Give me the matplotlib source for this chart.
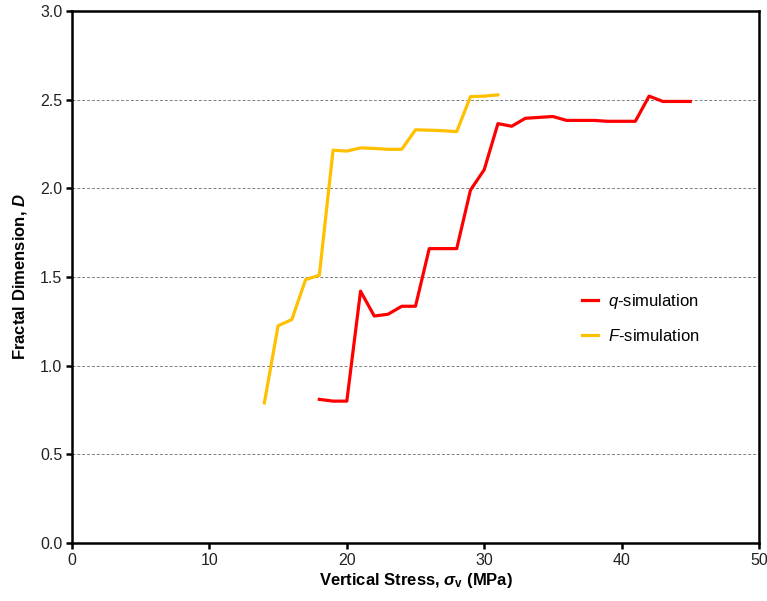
import numpy as np
import matplotlib
matplotlib.use("Agg")
from matplotlib import pyplot as plt

plt.rcParams['font.family'] = ['Liberation Sans', 'DejaVu Sans']
plt.rcParams['mathtext.fontset'] = 'custom'
plt.rcParams['mathtext.it'] = 'Liberation Sans:italic'
plt.rcParams['mathtext.bf'] = 'Liberation Sans:bold'
plt.rcParams['mathtext.bfit'] = 'Liberation Sans:italic:bold'
plt.rcParams['mathtext.rm'] = 'Liberation Sans'

# q-simulation (red)
q_stress = [18, 19, 20, 21, 22, 23, 24, 25, 26, 27, 28, 29, 30, 31, 32, 33, 34, 35,
            36, 37, 38, 39, 40, 41, 42, 43, 44, 45]
q_dim = [0.81, 0.80, 0.80, 1.42, 1.28, 1.29, 1.335, 1.335, 1.66, 1.66, 1.66, 1.99, 2.105,
         2.365, 2.35, 2.395, 2.40, 2.405, 2.383, 2.383, 2.383, 2.378, 2.378, 2.378,
         2.52, 2.49, 2.49, 2.49]

# F-simulation (orange)
f_stress = [14, 15, 16, 17, 18, 19, 20, 21, 22, 23, 24, 25, 26, 27, 28, 29, 30, 31]
f_dim = [0.79, 1.225, 1.26, 1.485, 1.51, 2.215, 2.21, 2.228, 2.225, 2.22, 2.22, 2.33,
         2.328, 2.325, 2.32, 2.517, 2.52, 2.527]

fig = plt.figure(figsize=(7.67, 6.01), dpi=100)
ax = fig.add_axes([72 / 767, 1 - 543 / 601, (759 - 72) / 767, (543 - 11) / 601])

ax.plot(q_stress, q_dim, color='#ff0000', lw=2.3, label='$q$-simulation', zorder=3)
ax.plot(f_stress, f_dim, color='#ffc000', lw=2.3, label='$F$-simulation', zorder=3)

ax.set_xlim(0, 50)
ax.set_ylim(0, 3.0)
ax.set_xticks(np.arange(0, 51, 10))
ax.set_yticks(np.arange(0, 3.01, 0.5))
ax.set_yticklabels(['%.1f' % v for v in np.arange(0, 3.01, 0.5)])
ax.yaxis.grid(True, linestyle=(0, (3, 2)), color='#808080', lw=0.7)
ax.set_axisbelow(True)

for s in ax.spines.values():
    s.set_linewidth(1.8)
ax.tick_params(direction='out', length=4, width=1.8, labelsize=11.5, colors='black',
               labelcolor='#222222', pad=3)

ax.set_xlabel('Vertical Stress, $\\mathbfit{\\sigma}_{\\mathbf{v}}$ (MPa)', fontsize=12,
              fontweight='bold', labelpad=2)
ax.set_ylabel('Fractal Dimension, $\\mathbfit{D}$', fontsize=12, fontweight='bold',
              labelpad=8)

leg = ax.legend(loc='upper left', bbox_to_anchor=(0.72, 0.5), frameon=False,
                fontsize=12, handlelength=1.0, handletextpad=0.6, labelspacing=1.0)

fig.savefig('out.png', dpi=100)
